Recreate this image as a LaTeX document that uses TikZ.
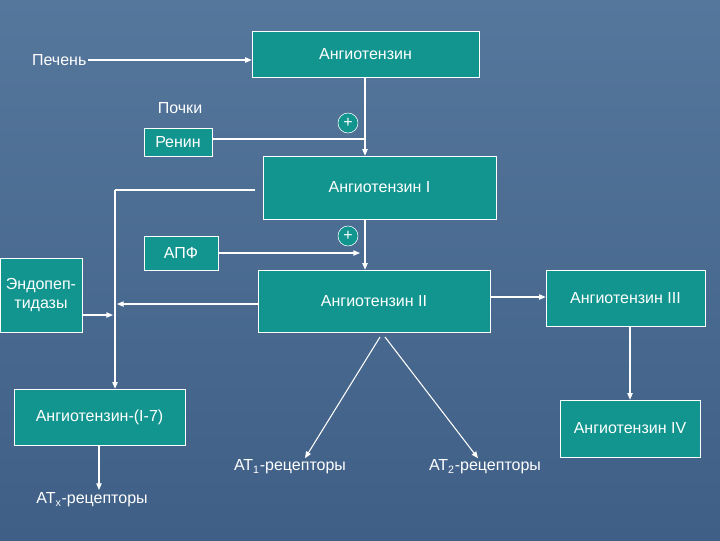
\documentclass[tikz,border=0pt]{standalone}
\usepackage{fontspec}
\setmainfont{Liberation Sans}
\usetikzlibrary{arrows.meta}
\definecolor{bgA}{HTML}{56779C}
\definecolor{bgB}{HTML}{3F5F86}
\definecolor{teal}{HTML}{12958F}
\tikzset{
 box/.style={draw=white,fill=teal,text=white,inner sep=0pt,font=\fontsize{12}{14}\selectfont},
 lbl/.style={text=white,inner sep=1pt,font=\fontsize{12}{14}\selectfont},
 ln/.style={draw=white,line width=0.8pt},
 ar/.style={ln,-{Triangle[width=4pt,length=5pt]}},
 pl/.style={circle,draw=white,fill=teal,text=white,minimum size=15pt,inner sep=0pt,font=\fontsize{12}{12}\selectfont}
}
\begin{document}
\begin{tikzpicture}[x=0.75pt,y=-0.75pt]
\shade[top color=bgA,bottom color=bgB] (0,0) rectangle (720,540);
\useasboundingbox (0,0) rectangle (720,540);
\node[box,minimum width=227*0.75pt,minimum height=46*0.75pt] (ang) at (365.5,54) {Ангиотензин};
\node[box,minimum width=68*0.75pt,minimum height=28*0.75pt] (ren) at (178,142) {Ренин};
\node[lbl] (poch) at (180,108) {Почки};
\node[lbl,anchor=east] (pech) at (88,60) {Печень};
\node[box,minimum width=233*0.75pt,minimum height=63*0.75pt] (a1) at (379.5,187.5) {Ангиотензин I};
\node[box,minimum width=74*0.75pt,minimum height=34*0.75pt] (apf) at (181,253) {АПФ};
\node[box,minimum width=232*0.75pt,minimum height=62*0.75pt] (a2) at (374,301) {Ангиотензин II};
\node[box,minimum width=82*0.75pt,minimum height=74*0.75pt,align=center] (endo) at (41,295) {Эндопеп-\\тидазы};
\node[box,minimum width=159*0.75pt,minimum height=56*0.75pt] (a3) at (625.5,298) {Ангиотензин III};
\node[box,minimum width=140*0.75pt,minimum height=57*0.75pt] (a4) at (630,428.5) {Ангиотензин IV};
\node[box,minimum width=171*0.75pt,minimum height=56*0.75pt] (a17) at (99.5,417) {Ангиотензин-(I-7)};
\node[lbl] (at1) at (290,467) {АТ\textsubscript{1}-рецепторы};
\node[lbl] (at2) at (485,467) {АТ\textsubscript{2}-рецепторы};
\node[lbl] (atx) at (92,500) {АТ\textsubscript{x}-рецепторы};
\node[pl] (p1) at (348,123) {+};
\node[pl] (p2) at (348,236) {+};
\coordinate (j1) at (365,139);
\coordinate (j2) at (365,253);
\coordinate (c1) at (255,190);
\coordinate (c2) at (115,190);
\coordinate (c3) at (117,304);
\draw[ar] (pech.east) -- (pech.east -| ang.west);
\draw[ar] (ang.south -| j1) -- (a1.north -| j1);
\draw[ln] (ren.east |- j1) -- (j1);
\draw[ar] (a1.south -| j2) -- (a2.north -| j2);
\draw[ar] (apf.east) -- (360,253);
\draw[ln] (c1) -- (c2);
\draw[ar] (c2) -- (a17.north -| c2);
\draw[ar] (a2.west |- c3) -- (c3);
\draw[ar] (endo.east |- 0,315) -- (113,315);
\draw[ar] (a2.east |- 0,297) -- (a3.west |- 0,297);
\draw[ar] (a3.south -| a4.north) -- (a4.north);
\draw[ar] (380,337) -- (at1.north -| 305,0);
\draw[ar] (385,337) -- (at2.north -| 478,0);
\draw[ar] (a17.south -| 99,0) -- (99,490);
\end{tikzpicture}
\end{document}
